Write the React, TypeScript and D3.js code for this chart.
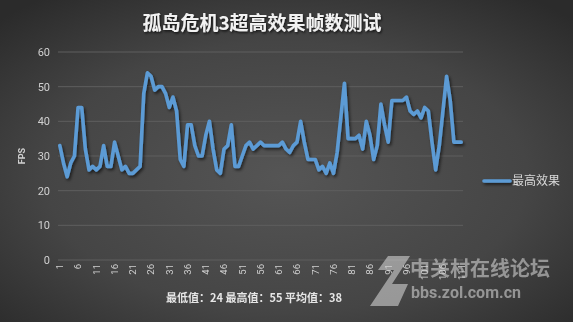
import React from "react";
import * as d3 from "d3";

const TITLE = "孤岛危机3超高效果帧数测试";
const SERIES_NAME = "最高效果";
const Y_TICKS = [0, 10, 20, 30, 40, 50, 60];
const FPS = [
  33, 28, 24, 28, 30, 44, 44, 32, 26, 27,
  26, 27, 33, 27, 27, 34, 30, 26, 27, 25,
  25, 26, 27, 48, 54, 53, 49, 50, 50, 48,
  44, 47, 43, 29, 27, 39, 39, 33, 30, 30,
  36, 40, 32, 26, 25, 32, 33, 39, 27, 27,
  30, 33, 34, 32, 33, 34, 33, 33, 33, 33,
  33, 34, 32, 31, 33, 34, 40, 34, 29, 29,
  29, 26, 27, 25, 28, 25, 31, 41, 51, 35,
  35, 35, 36, 32, 40, 36, 29, 33, 45, 39,
  34, 46, 46, 46, 46, 47, 43, 42, 43, 41,
  44, 43, 34, 26, 33, 43, 53, 46, 34, 34,
  34,
];
const CATEGORIES = FPS.map((_, i) => String(i + 1));
const SUMMARY = "最低值：24 最高值：55 平均值：38";
const WATERMARK = "中关村在线论坛";
const WATERMARK_URL = "bbs.zol.com.cn";

const W = 573;
const H = 322;
const PLOT = { left: 58, right: 463, top: 52, bottom: 260 };
const FONT = "Roboto, 'Noto Sans CJK SC', sans-serif";
const CJK = "'Noto Sans CJK SC', sans-serif";

export default function App() {
  const x = d3
    .scaleBand<string>()
    .domain(CATEGORIES)
    .range([PLOT.left, PLOT.right])
    .paddingInner(0)
    .paddingOuter(0);
  const cx = (c: string) => (x(c) as number) + x.bandwidth() / 2;
  const y = d3.scaleLinear().domain([0, 60]).range([PLOT.bottom, PLOT.top]);
  const line = d3
    .line<number>()
    .x((_, i) => cx(CATEGORIES[i]))
    .y((d) => y(d))
    .curve(d3.curveLinear);
  const xTicks = CATEGORIES.filter((_, i) => i % 5 === 0);

  return (
    <div style={{ position: "fixed", left: 0, top: 0, width: W, height: H }}>
      <svg width={W} height={H} viewBox={`0 0 ${W} ${H}`}>
        <defs>
          <radialGradient id="bg" cx="50%" cy="55%" r="70%">
            <stop offset="0%" stopColor="#555555" />
            <stop offset="60%" stopColor="#454545" />
            <stop offset="100%" stopColor="#2b2b2b" />
          </radialGradient>
          <filter id="shadow" filterUnits="userSpaceOnUse" x="0" y="0" width={W} height={H}>
            <feDropShadow dx="1.5" dy="2" stdDeviation="1.5" floodColor="#000" floodOpacity="0.6" />
          </filter>
          <filter id="tshadow" x="-10%" y="-30%" width="120%" height="160%">
            <feDropShadow dx="1" dy="1.5" stdDeviation="1" floodColor="#000" floodOpacity="0.7" />
          </filter>
        </defs>
        <rect x={0} y={0} width={W} height={H} fill="url(#bg)" />

        <text
          x={262}
          y={30}
          textAnchor="middle"
          fontFamily={CJK}
          fontWeight={700}
          fontSize={19}
          fill="#f2f2f2"
          filter="url(#tshadow)"
        >
          {TITLE}
        </text>

        {Y_TICKS.map((t) => (
          <g key={t}>
            <line x1={PLOT.left} x2={PLOT.right} y1={y(t)} y2={y(t)} stroke="#5e5e5e" strokeWidth={1} />
            <text
              x={50}
              y={y(t)}
              dy="0.35em"
              textAnchor="end"
              fontFamily={FONT}
              fontSize={11}
              fill="#d0d0d0"
            >
              {t}
            </text>
          </g>
        ))}

        <text
          transform={`translate(25,${(PLOT.top + PLOT.bottom) / 2}) rotate(-90)`}
          textAnchor="middle"
          fontFamily={FONT}
          fontSize={9}
          fontWeight={700}
          fill="#d0d0d0"
        >
          FPS
        </text>

        {xTicks.map((c) => (
          <text
            key={c}
            transform={`translate(${cx(c)},264) rotate(-90)`}
            dy="0.35em"
            textAnchor="end"
            fontFamily={FONT}
            fontSize={9.5}
            fill="#d0d0d0"
          >
            {c}
          </text>
        ))}

        <path
          d={line(FPS) || ""}
          fill="none"
          stroke="#5b9bd5"
          strokeWidth={3.6}
          strokeLinejoin="round"
          strokeLinecap="round"
          filter="url(#shadow)"
        />

        <line x1={484} x2={510} y1={181} y2={181} stroke="#5b9bd5" strokeWidth={3.6} strokeLinecap="round" filter="url(#shadow)" />
        <text x={512} y={181} dy="0.35em" fontFamily={CJK} fontSize={12} fill="#d9d9d9">
          {SERIES_NAME}
        </text>

        <g opacity={0.6}>
          <path d="M370,306 L394,270 L378,270 L388,256 L410,256 L392,284 L408,284 L398,306 Z" fill="#d0d0d0" />
          <text x={410} y={276} fontFamily={CJK} fontWeight={700} fontSize={20} fill="#d0d0d0">
            {WATERMARK}
          </text>
          <text x={411} y={298} fontFamily={FONT} fontWeight={700} fontSize={16} fill="#d0d0d0">
            {WATERMARK_URL}
          </text>
        </g>

        <text x={166} y={302} fontFamily={CJK} fontWeight={700} fontSize={11} fill="#e6e6e6">
          {SUMMARY}
        </text>
      </svg>
    </div>
  );
}
